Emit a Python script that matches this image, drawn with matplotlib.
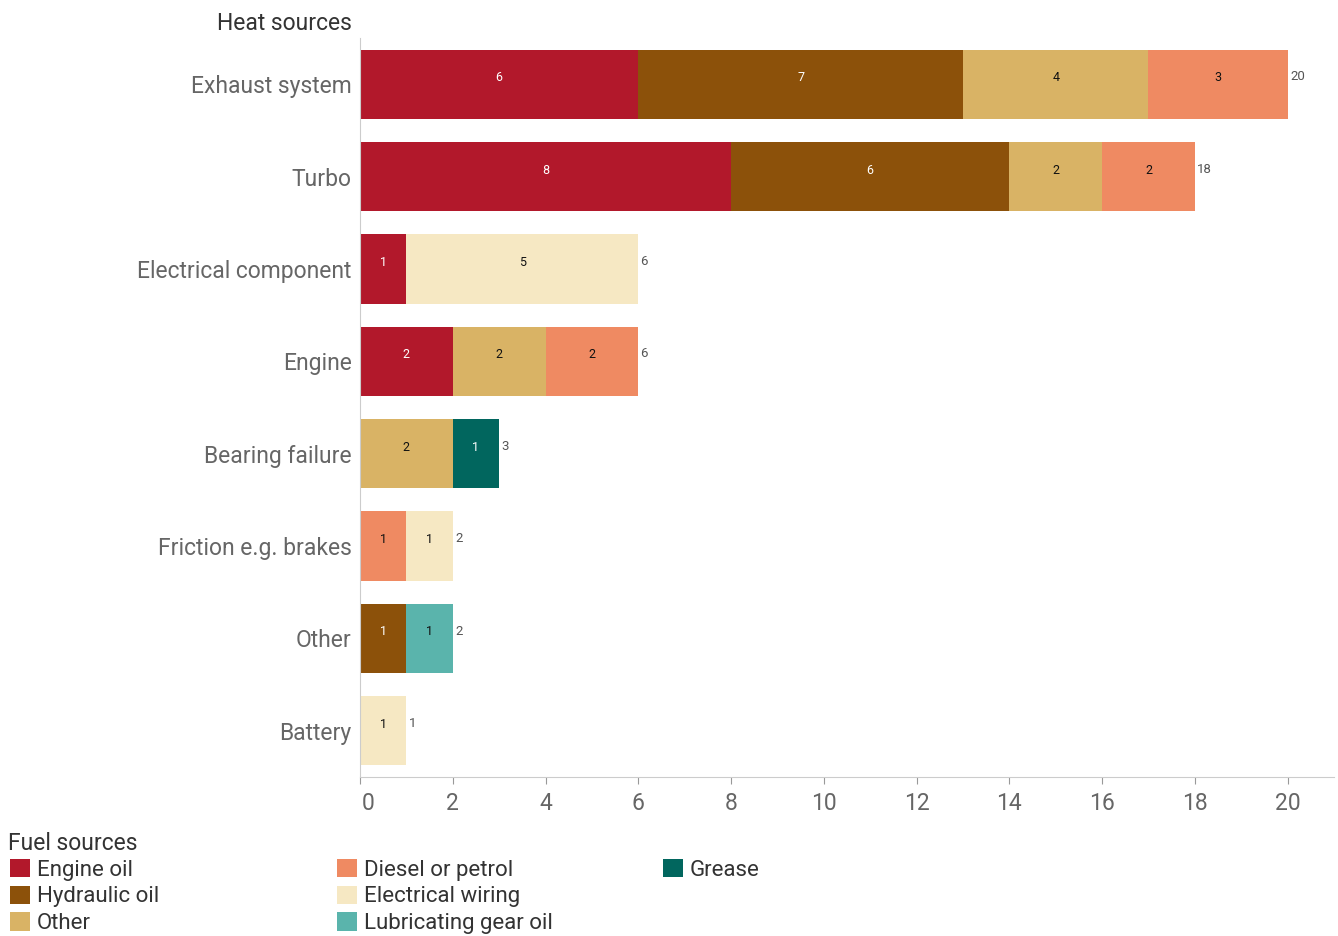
import matplotlib
matplotlib.use("Agg")
import matplotlib.pyplot as plt
from matplotlib.patches import Patch
import matplotlib.transforms as mtransforms
import numpy as np

plt.rcParams['font.family'] = ['Roboto', 'DejaVu Sans']

categories = ["Exhaust system", "Turbo", "Electrical component", "Engine",
              "Bearing failure", "Friction e.g. brakes", "Other", "Battery"]
series_names = ["Engine oil", "Hydraulic oil", "Other", "Diesel or petrol",
                "Electrical wiring", "Lubricating gear oil", "Grease"]
engine_oil = [6, 8, 1, 2, 0, 0, 0, 0]
hydraulic_oil = [7, 6, 0, 0, 0, 0, 1, 0]
other = [4, 2, 0, 2, 2, 0, 0, 0]
diesel_petrol = [3, 2, 0, 2, 0, 1, 0, 0]
electrical_wiring = [0, 0, 5, 0, 0, 1, 0, 1]
lubricating_gear_oil = [0, 0, 0, 0, 0, 0, 1, 0]
grease = [0, 0, 0, 0, 1, 0, 0, 0]
series = [engine_oil, hydraulic_oil, other, diesel_petrol,
          electrical_wiring, lubricating_gear_oil, grease]
colors = ["#B2182B", "#8C510A", "#D9B365", "#EF8A62", "#F6E8C3", "#5AB4AC", "#01665E"]
text_colors = ["white", "white", "#111111", "#111111", "#111111", "#111111", "white"]

fig = plt.figure(figsize=(13.38, 9.36), dpi=100)
ax = fig.add_axes([360/1338, 1-777/936, (1334-360)/1338, (777-38)/936])

y = np.arange(len(categories))
left = np.zeros(len(categories))
for vals, c, tc in zip(series, colors, text_colors):
    vals = np.array(vals, dtype=float)
    ax.barh(y, vals, left=left, height=0.75, color=c, linewidth=0)
    for yi, (l, v) in enumerate(zip(left, vals)):
        if v > 0:
            ax.text(l + v/2, yi - 0.07, f"{int(v)}", ha="center", va="center",
                    fontsize=9, color=tc)
    left += vals

for yi, tot in enumerate(left):
    ax.text(tot + 0.05, yi - 0.08, f"{int(tot)}", ha="left", va="center",
            fontsize=9.5, color="#555555")

ax.set_ylim(len(categories) - 0.5, -0.5)
ax.set_xlim(0, 21)
ax.set_yticks(y)
ax.set_yticklabels(categories, fontsize=16.5, color="#666666")
ax.set_xticks(np.arange(0, 21, 2))
ax.tick_params(axis="y", length=0, pad=6)
ax.tick_params(axis="x", length=5, color="#999999", labelsize=16.5, labelcolor="#666666", pad=6)
for s in ["top", "right"]:
    ax.spines[s].set_visible(False)
ax.spines["left"].set_color("#cccccc")
ax.spines["bottom"].set_color("#cccccc")

# first x tick label sits slightly right of its tick in the reference
first = ax.get_xticklabels()[0]
first.set_transform(first.get_transform() +
                    mtransforms.ScaledTranslation(8/100, 0, fig.dpi_scale_trans))

fig.text(352/1338, 1-23/936, "Heat sources", ha="right", va="center",
         fontsize=16.5, color="#333333")

fig.text(8/1338, 1-843/936, "Fuel sources", ha="left", va="center",
         fontsize=16.5, color="#333333")

columns = [[0, 1, 2], [3, 4, 5], [6]]
col_x = [10, 337, 663]
for idxs, cx in zip(columns, col_x):
    handles = [Patch(facecolor=colors[i], edgecolor="none") for i in idxs]
    labels = [series_names[i] for i in idxs]
    leg = fig.legend(handles, labels, loc="upper left",
                     bbox_to_anchor=(cx/1338, 1-859/936), frameon=False,
                     fontsize=16, handlelength=0.9, handleheight=0.9,
                     handletextpad=0.3, labelspacing=0.21,
                     borderaxespad=0, borderpad=0)
    for t in leg.get_texts():
        t.set_color("#333333")

fig.savefig("out.png", dpi=100)
